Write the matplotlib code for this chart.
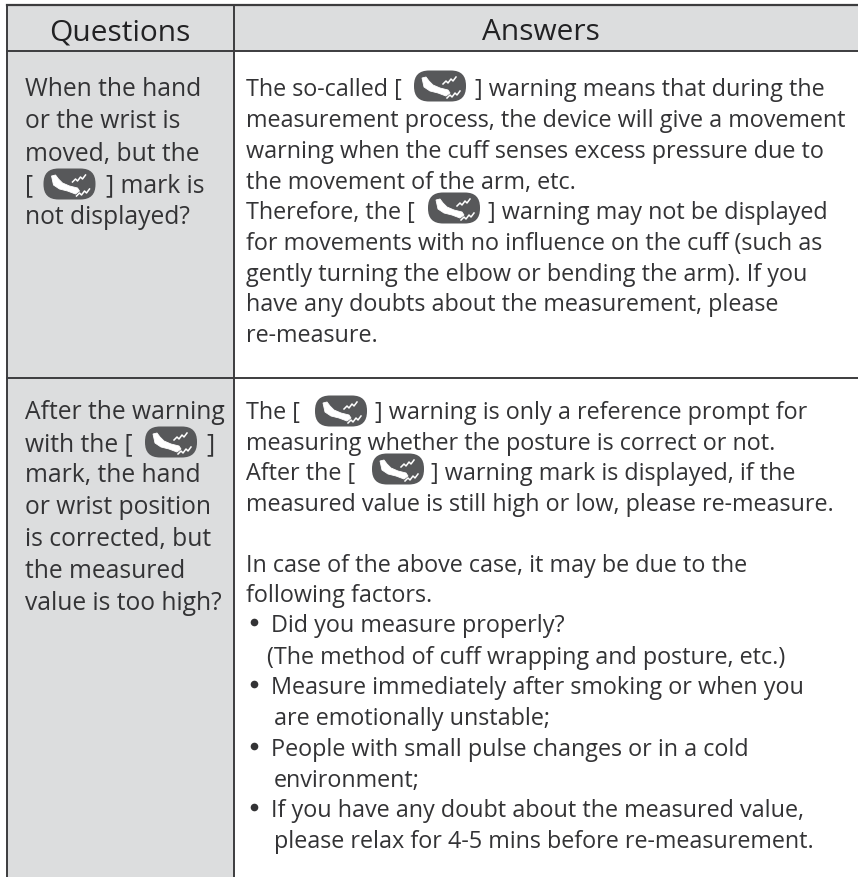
import matplotlib
matplotlib.use("Agg")
import matplotlib.pyplot as plt
from matplotlib.patches import Rectangle, FancyBboxPatch, Polygon

header_labels = ["Questions", "Answers"]
q_lines = [
    [(25, 87, "When the hand"), (25, 119, "or the wrist is"), (25, 151, "moved, but the"),
     (25, 183, "["), (106, 183, "] mark is"), (25, 215, "not displayed?")],
    [(25, 410, "After the warning"), (25, 442, "with the ["), (206, 442, "]"),
     (25, 473, "mark, the hand"), (25, 505, "or wrist position"), (25, 537, "is corrected, but"),
     (25, 569, "the measured"), (25, 601, "value is too high?")],
]
a_lines = [
    (246, 87, "The so-called ["), (475, 87, "] warning means that during the"),
    (246, 118, "measurement process, the device will give a movement"),
    (246, 149, "warning when the cuff senses excess pressure due to"),
    (246, 180, "the movement of the arm, etc."),
    (246, 210, "Therefore, the ["), (488, 210, "] warning may not be displayed"),
    (246, 241, "for movements with no influence on the cuff (such as"),
    (246, 272, "gently turning the elbow or bending the arm). If you"),
    (246, 302, "have any doubts about the measurement, please"),
    (246, 333, "re-measure."),
    (246, 410, "The ["), (375, 410, "] warning is only a reference prompt for"),
    (246, 441, "measuring whether the posture is correct or not."),
    (246, 471, "After the ["), (431, 471, "] warning mark is displayed, if the"),
    (246, 502, "measured value is still high or low, please re-measure."),
    (246, 563, "In case of the above case, it may be due to the"),
    (246, 593, "following factors."),
    (271, 623, "Did you measure properly?"),
    (267, 655, "(The method of cuff wrapping and posture, etc.)"),
    (271, 685, "Measure immediately after smoking or when you"),
    (274, 716, "are emotionally unstable;"),
    (271, 747, "People with small pulse changes or in a cold"),
    (274, 778, "environment;"),
    (271, 808, "If you have any doubt about the measured value,"),
    (274, 839, "please relax for 4-5 mins before re-measurement."),
]
bullets = [(254, 623), (254, 685), (254, 747), (254, 808)]
icon_centers = [(69.5, 185), (171, 443), (440, 87), (454, 209), (341, 412), (398, 470)]

INK = "#333335"
GRID = "#3c3c3e"
SHADE = "#dcddde"
FS_Q = 17.7
FS_A = 16.8
DY = 3

fig = plt.figure(figsize=(8.58, 8.78), dpi=100, facecolor="white")
ax = fig.add_axes([0, 0, 1, 1])
ax.set_xlim(0, 858)
ax.set_ylim(878, 0)
ax.axis("off")

ax.add_patch(Rectangle((7, 6), 227, 872, fc=SHADE, ec="none", zorder=0))
ax.add_patch(Rectangle((234, 6), 624, 46, fc=SHADE, ec="none", zorder=0))

ax.plot([7, 858], [6, 6], color=GRID, lw=1.6)
ax.plot([7, 858], [52, 52], color=GRID, lw=1.4)
ax.plot([7, 858], [379, 379], color=GRID, lw=1.4)
for x in (7, 234):
    ax.plot([x, x], [6, 878], color=GRID, lw=1.4)

plt.rcParams["font.family"] = ["Open Sans", "DejaVu Sans"]
ax.text(120, 40.5, header_labels[0], ha="center", va="baseline", fontsize=21.5, color="#222224")
ax.text(541, 40.5, header_labels[1], ha="center", va="baseline", fontsize=21.5, color="#222224")

for block in q_lines:
    for x, y, s in block:
        ax.text(x, y + DY, s, ha="left", va="center", fontsize=FS_Q, color=INK)
for x, y, s in a_lines:
    ax.text(x, y + DY, s, ha="left", va="center", fontsize=FS_A, color=INK)
for x, y in bullets:
    ax.plot([x], [y], "o", ms=5.5, color=INK, mec="none")


def draw_icon(cx, cy):
    ax.add_patch(FancyBboxPatch((cx - 11, cy - 0.5), 22, 1, boxstyle="round,pad=15,rounding_size=15",
                                fc="#57585a", ec="none", zorder=3))
    swoosh = [(-18, -8), (-14, -9), (-11, -5), (-7, -1), (0, 2), (8, 4), (10, 7), (6, 10),
              (-2, 7), (-10, 5), (-16, 1)]
    ax.add_patch(Polygon([(cx + a, cy + b) for a, b in swoosh], closed=True,
                         fc="white", ec="white", lw=0.6, zorder=4))
    upper = [(3, -2), (6, -5), (8, -3), (11, -7), (13, -5), (16, -9)]
    lower = [(7, 12), (10, 9), (12, 11), (15, 7), (17, 9), (20, 5)]
    for wave in (upper, lower):
        ax.plot([cx + a for a, b in wave], [cy + b for a, b in wave],
                color="white", lw=1.1, zorder=4)


for cx, cy in icon_centers:
    draw_icon(cx, cy)

fig.savefig("out.png", dpi=100, facecolor="white")
